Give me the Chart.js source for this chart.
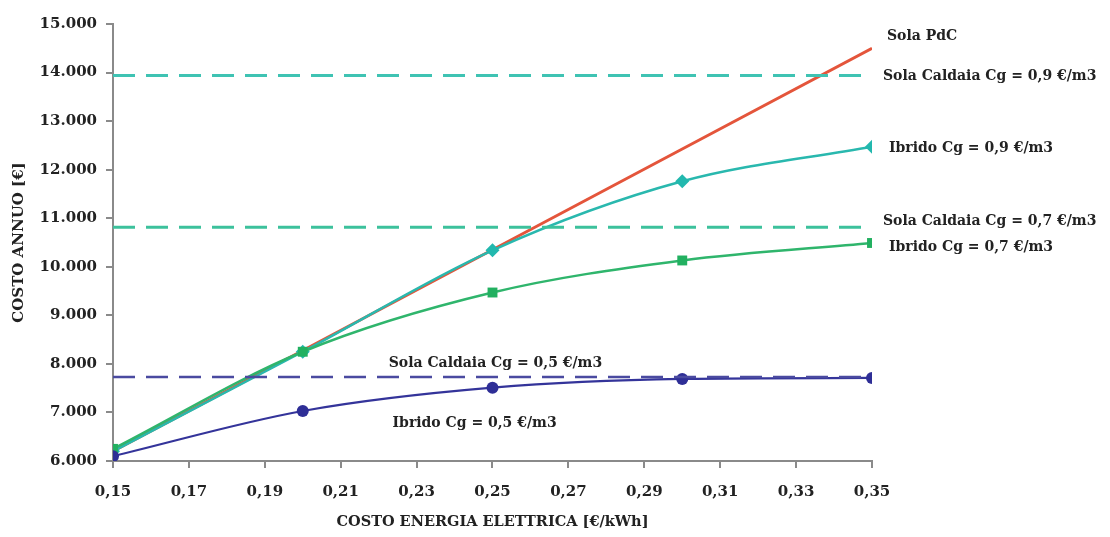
<!DOCTYPE html>
<html>
<head>
<meta charset="utf-8">
<script src="https://cdn.jsdelivr.net/npm/chart.js@4/dist/chart.umd.min.js"></script>
<style>
  html, body { margin: 0; padding: 0; background: #fff; }
  #wrap { width: 1110px; height: 537px; }
</style>
</head>
<body>
<div id="wrap"><canvas id="myChart" width="1110" height="537"></canvas></div>
<script>
// costo energia elettrica [€/kWh]
const xValues = [0.15, 0.20, 0.25, 0.30, 0.35];
const xRange = [0.15, 0.35];

// costo annuo [€]
const solaPdc = [6200, 8275, 10350, 12425, 14500];
const ibrido09 = [6200, 8250, 10340, 11760, 12470];
const ibrido07 = [6250, 8250, 9470, 10130, 10490];
const ibrido05 = [6100, 7030, 7510, 7690, 7710];
const caldaia09 = 13940;
const caldaia07 = 10815;
const caldaia05 = 7730;

const serif = '"DejaVu Serif", "Liberation Serif", serif';
const canvas = document.getElementById('myChart');
const ctx = canvas.getContext('2d');

function pts(values) {
  return xValues.map((x, i) => ({ x: x, y: values[i] }));
}
function flat(v) {
  return xRange.map(x => ({ x: x, y: v }));
}

// text labels next to the lines
const labels = [
  { text: 'Sola PdC', x: 0.35, y: 14500, dx: 15, dy: -12 },
  { text: 'Sola Caldaia Cg = 0,9 €/m3', x: 0.35, y: caldaia09, dx: 11, dy: 1 },
  { text: 'Ibrido Cg = 0,9 €/m3', x: 0.35, y: ibrido09[4], dx: 17, dy: 2 },
  { text: 'Sola Caldaia Cg = 0,7 €/m3', x: 0.35, y: caldaia07, dx: 11, dy: -6 },
  { text: 'Ibrido Cg = 0,7 €/m3', x: 0.35, y: ibrido07[4], dx: 17, dy: 4 },
  { text: 'Sola Caldaia Cg = 0,5 €/m3', x: 0.2195, y: caldaia05, dx: 12, dy: -14 },
  { text: 'Ibrido Cg = 0,5 €/m3', x: 0.2205, y: ibrido05[1], dx: 12, dy: 12 }
];

const labelPlugin = {
  id: 'lineLabels',
  afterDatasetsDraw(chart) {
    const c = chart.ctx;
    const xs = chart.scales.x, ys = chart.scales.y;
    c.save();
    c.font = 'bold 14px ' + serif;
    c.fillStyle = '#222';
    c.textBaseline = 'middle';
    c.textAlign = 'left';
    labels.forEach(l => {
      c.fillText(l.text, xs.getPixelForValue(l.x) + l.dx, ys.getPixelForValue(l.y) + l.dy);
    });
    c.restore();
  }
};

new Chart(ctx, {
  type: 'line',
  data: {
    datasets: [
      {
        label: 'Sola Caldaia Cg = 0,9 €/m3', data: flat(caldaia09),
        borderColor: '#3fc3b3', borderWidth: 3, borderDash: [22, 11], pointRadius: 0
      },
      {
        label: 'Sola Caldaia Cg = 0,7 €/m3', data: flat(caldaia07),
        borderColor: '#3cc19c', borderWidth: 3, borderDash: [22, 11], pointRadius: 0
      },
      {
        label: 'Sola Caldaia Cg = 0,5 €/m3', data: flat(caldaia05),
        borderColor: '#4a4aa0', borderWidth: 2.5, borderDash: [22, 11], pointRadius: 0
      },
      {
        label: 'Ibrido Cg = 0,5 €/m3', data: pts(ibrido05),
        borderColor: '#34349a', backgroundColor: '#2e2e96', borderWidth: 2.2,
        cubicInterpolationMode: 'monotone',
        pointStyle: 'circle', pointRadius: 6, pointBorderWidth: 0
      },
      {
        label: 'Ibrido Cg = 0,7 €/m3', data: pts(ibrido07),
        borderColor: '#2fb56c', backgroundColor: '#22b060', borderWidth: 2.5,
        cubicInterpolationMode: 'monotone',
        pointStyle: 'rect', pointRadius: 7, pointBorderWidth: 0
      },
      {
        label: 'Ibrido Cg = 0,9 €/m3', data: pts(ibrido09),
        borderColor: '#29b8ae', backgroundColor: '#22b8ae', borderWidth: 2.5,
        cubicInterpolationMode: 'monotone',
        pointStyle: 'rectRot', pointRadius: 7, pointBorderWidth: 0
      },
      {
        label: 'Sola PdC', data: pts(solaPdc),
        borderColor: '#e4553b', borderWidth: 3, pointRadius: 0
      }
    ]
  },
  options: {
    responsive: false,
    animation: false,
    layout: { padding: { top: 24, right: 238, left: 0, bottom: 0 } },
    plugins: {
      legend: { display: false },
      tooltip: { enabled: false }
    },
    scales: {
      x: {
        type: 'linear',
        min: 0.15, max: 0.35,
        afterFit(s) { s.height = 76; },
        grid: { drawOnChartArea: false, drawTicks: true, tickLength: 7, color: '#8a8a8a', lineWidth: 2 },
        border: { color: '#8a8a8a', width: 2 },
        ticks: {
          stepSize: 0.02,
          color: '#222',
          padding: 15,
          font: { family: serif, size: 15, weight: 'bold' },
          callback: v => v.toFixed(2).replace('.', ',')
        },
        title: {
          display: true,
          text: 'COSTO ENERGIA ELETTRICA [€/kWh]',
          color: '#222',
          padding: { top: 4, bottom: 6 },
          font: { family: serif, size: 14.5, weight: 'bold' }
        }
      },
      y: {
        min: 6000, max: 15000,
        afterFit(s) { s.width = 113; },
        grid: { drawOnChartArea: false, drawTicks: true, tickLength: 7, color: '#8a8a8a', lineWidth: 2 },
        border: { color: '#8a8a8a', width: 2 },
        ticks: {
          stepSize: 1000,
          color: '#222',
          padding: 9,
          font: { family: serif, size: 15, weight: 'bold' },
          callback: v => String(v).replace(/\B(?=(\d{3})+(?!\d))/g, '.')
        },
        title: {
          display: true,
          text: 'COSTO ANNUO [€]',
          color: '#222',
          padding: { top: 10, bottom: 4 },
          font: { family: serif, size: 15, weight: 'bold' }
        }
      }
    }
  },
  plugins: [labelPlugin]
});
</script>
</body>
</html>
